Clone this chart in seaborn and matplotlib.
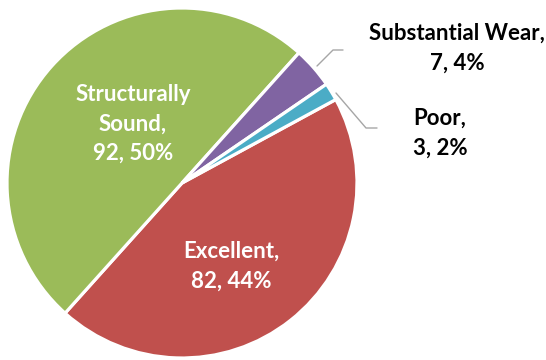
import matplotlib
matplotlib.use("Agg")
import matplotlib.pyplot as plt
import seaborn as sns

# Bridge condition counts
categories = ["Excellent", "Structurally Sound", "Substantial Wear", "Poor"]
counts = [82, 92, 7, 3]
percents = [44, 50, 4, 2]
colors = ["#C0504D", "#9BBB59", "#8064A2", "#4BACC6"]

sns.set_theme(style="white")
plt.rcParams["font.family"] = ["Lato", "DejaVu Sans"]

W, H = 546, 360
fig = plt.figure(figsize=(W / 100, H / 100), dpi=100)
ax = fig.add_axes([0, 0, 1, 1])

cx, cy, r = 182, H - 183, 175
ax.pie(counts, colors=colors, startangle=28.5, counterclock=False,
       center=(cx, cy), radius=r, frame=True,
       wedgeprops=dict(edgecolor="white", linewidth=2.3))
ax.set_xlim(0, W)
ax.set_ylim(0, H)
ax.set_aspect("equal")
ax.axis("off")

labels = [f"{c},\n{v}, {p}%" for c, v, p in zip(categories, counts, percents)]
labels[1] = f"Structurally\nSound,\n{counts[1]}, {percents[1]}%"

# label anchors in pixel coordinates (x, y from top)
label_pos = [(231, 266), (133, 124), (457, 48), (440, 133)]
label_col = ["white", "white", "black", "black"]
for txt, (x, y), col in zip(labels, label_pos, label_col):
    ax.text(x, H - y, txt, ha="center", va="center", color=col,
            fontsize=16, fontweight="bold", linespacing=1.5)

# leader lines for the small slices
leaders = [[(317, 66), (333, 50), (343, 50)],
           [(336, 93), (366, 128), (377, 128)]]
for pts in leaders:
    xs = [p[0] for p in pts]
    ys = [H - p[1] for p in pts]
    ax.plot(xs, ys, color="#A6A6A6", lw=1.0)

fig.savefig("out.png", dpi=100, facecolor="white")
